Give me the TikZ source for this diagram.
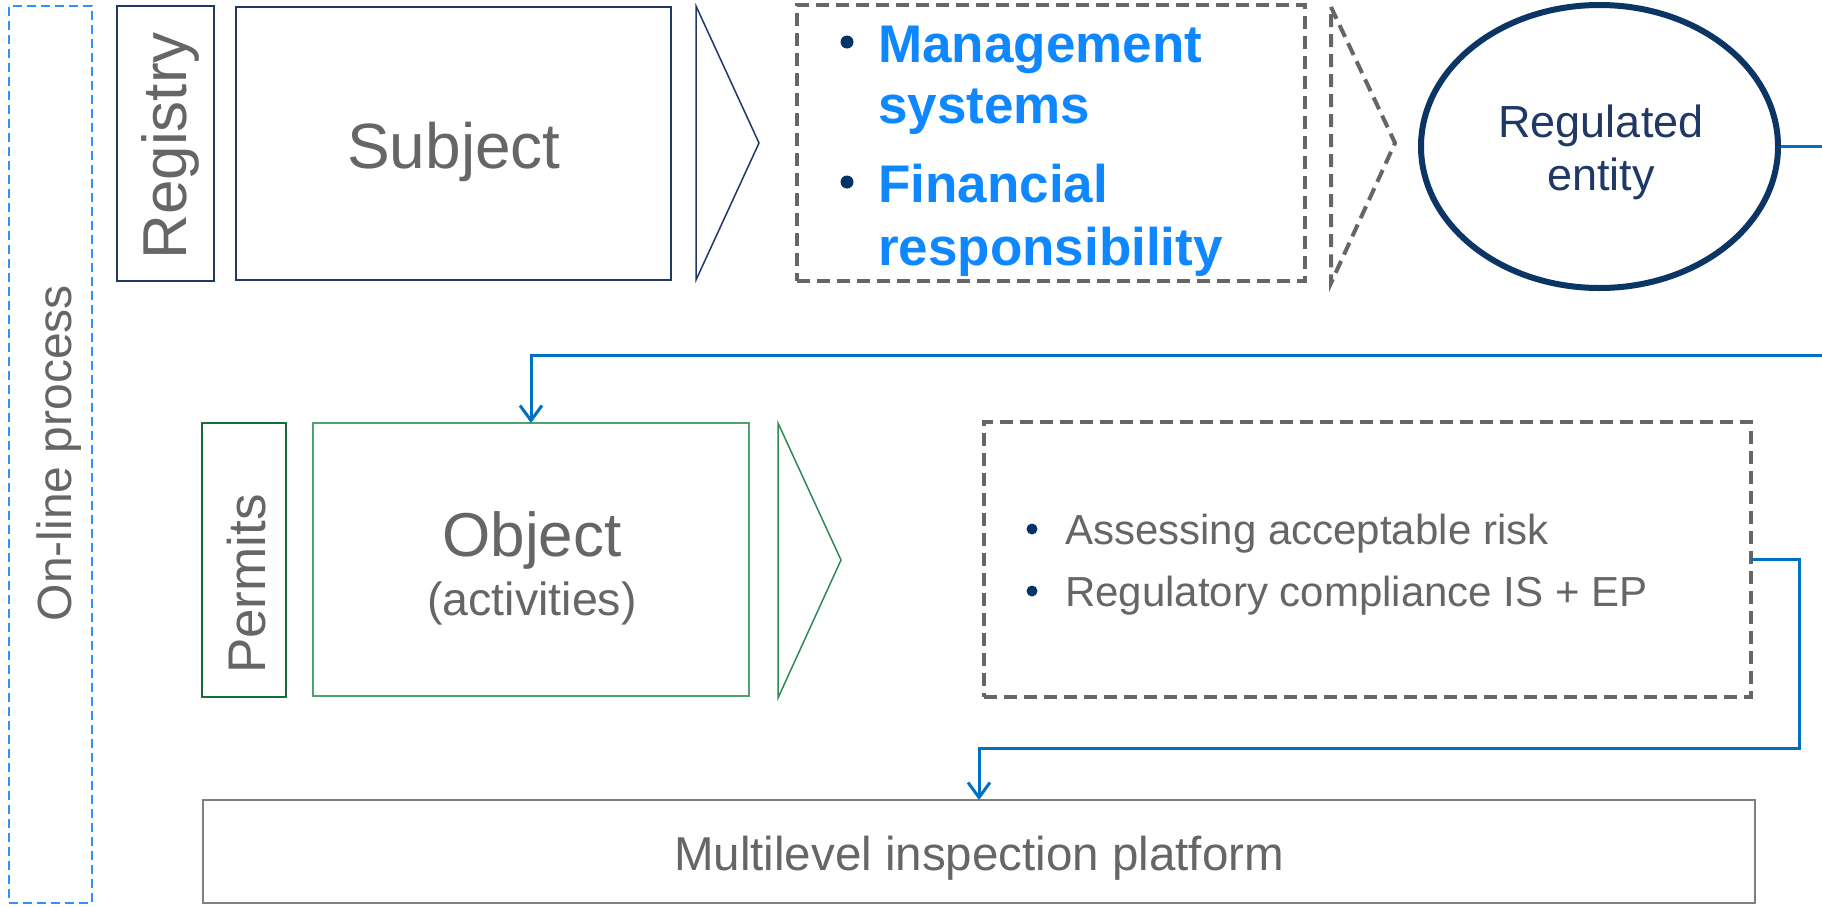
\documentclass[tikz,border=0pt]{standalone}
\usepackage{fontspec}
\setmainfont{Liberation Sans}
\usetikzlibrary{arrows.meta,shapes.geometric}
\definecolor{txtgray}{HTML}{666666}
\definecolor{brightblue}{HTML}{0F87FF}
\definecolor{navy}{HTML}{1F3864}
\definecolor{navydeep}{HTML}{0B3565}
\definecolor{bulletnavy}{HTML}{003366}
\definecolor{conblue}{HTML}{0070C0}
\definecolor{onlineblue}{HTML}{2F90FF}
\definecolor{dashgray}{HTML}{666666}
\definecolor{greendark}{HTML}{1A6B3A}
\definecolor{greenlight}{HTML}{4CA36B}
\definecolor{greenmid}{HTML}{2E8B57}
\definecolor{platgray}{HTML}{808080}
\newcommand\myfs[1]{\fontsize{#1}{#1}\selectfont}
\begin{document}
\begin{tikzpicture}[x=1pt,y=-1pt,
  boxshape/.style={rectangle,inner sep=0pt,outer sep=0pt},
  graydash/.style={draw=dashgray,line width=4pt,dash pattern=on 13pt off 7pt},
  conn/.style={draw=conblue,line width=3pt},
  arrowconn/.style={conn,-{Straight Barb[length=15pt,width=22pt]}},
  dotbullet/.style={circle,fill=bulletnavy,inner sep=0pt},
  graytxt/.style={text=txtgray,inner sep=0pt},
  bluetxt/.style={text=brightblue,inner sep=0pt,anchor=base west,font=\myfs{53}\bfseries},
]
\useasboundingbox (0,0) rectangle (1822,906);
\fill[white] (0,0) rectangle (1822,906);

% On-line process
\node[boxshape,draw=onlineblue,line width=2pt,dash pattern=on 9pt off 5pt,
      minimum width=83pt,minimum height=897pt] (online) at (50.5,454.5) {};
\node[graytxt,rotate=90,anchor=base,font=\myfs{48}] (onlinetxt) at (71,453) {On-line process};

% Registry
\node[boxshape,draw=navy,line width=2pt,minimum width=97pt,minimum height=275pt] (registry) at (165.5,143.5) {};
\node[graytxt,rotate=90,anchor=base,font=\myfs{62}] (registrytxt) at (186,146) {Registry};

% Subject
\node[boxshape,draw=navy,line width=1.5pt,minimum width=435pt,minimum height=273pt] (subject) at (453.5,143.5) {};
\node[graytxt,anchor=base,font=\myfs{64}] (subjecttxt) at (454,168) {Subject};

% chevron 1
\draw[draw=navy,line width=1.5pt,line join=miter] (696,6) -- (759,143) -- (696,280) -- cycle;

% dashed box 1
\node[boxshape,graydash,minimum width=508pt,minimum height=276pt] (mgmt) at (1051,143) {};
\node[dotbullet,minimum size=13pt] (b1) at (847,42) {};
\node[bluetxt] (t1a) at (878,62) {Management};
\node[bluetxt] (t1b) at (878,123) {systems};
\node[dotbullet,minimum size=13pt] (b2) at (847,182) {};
\node[bluetxt] (t2a) at (878,202) {Financial};
\node[bluetxt] (t2b) at (878,265) {responsibility};

% dashed chevron 2
\draw[graydash,line join=miter] (1331,7) -- (1395,143) -- (1331,283) -- cycle;

% Regulated entity
\node[ellipse,draw=navydeep,line width=6pt,minimum width=357pt,minimum height=283pt,inner sep=0pt] (reg) at (1599.5,146.5) {};
\node[text=navy,inner sep=0pt,anchor=base,font=\myfs{45}] (regtxt1) at (1601,137) {Regulated};
\node[text=navy,inner sep=0pt,anchor=base,font=\myfs{45}] (regtxt2) at (1601,190) {entity};

% Permits
\node[boxshape,draw=greendark,line width=2pt,minimum width=84pt,minimum height=274pt] (permits) at (244,560) {};
\node[graytxt,rotate=90,anchor=base,font=\myfs{53}] (permitstxt) at (265,584) {Permits};

% Object
\node[boxshape,draw=greenlight,line width=1.5pt,minimum width=436pt,minimum height=273pt] (object) at (531,559.5) {};
\node[graytxt,anchor=base,font=\myfs{62}] (objecttxt) at (532,556) {Object};
\node[graytxt,anchor=base,font=\myfs{46.5}] (acttxt) at (532,615) {(activities)};

% chevron 3
\draw[draw=greenmid,line width=1.5pt,line join=miter] (778,423) -- (841,560) -- (778,698) -- cycle;

% dashed box 2
\node[boxshape,graydash,minimum width=767pt,minimum height=275pt] (risk) at (1367.5,559.5) {};
\node[dotbullet,minimum size=11pt] (b3) at (1032,529) {};
\node[graytxt,anchor=base west,font=\myfs{42}] (t3) at (1065,544) {Assessing acceptable risk};
\node[dotbullet,minimum size=11pt] (b4) at (1032,591) {};
\node[graytxt,anchor=base west,font=\myfs{42}] (t4) at (1065,606) {Regulatory compliance IS + EP};

% Multilevel inspection platform
\node[boxshape,draw=platgray,line width=2.5pt,minimum width=1552pt,minimum height=103pt] (multi) at (979,851.5) {};
\node[graytxt,anchor=base,font=\myfs{47.5}] (multitxt) at (979,870) {Multilevel inspection platform};

% connectors
\coordinate (c1a) at (1825,146.5);
\coordinate (c1b) at (1825,355);
\draw[arrowconn] (reg.east) -- (c1a) -- (c1b) -| (object.north);

\coordinate (c2b) at (1799,748);
\draw[arrowconn] (risk.east) -| (c2b) -| (multi.north);
\end{tikzpicture}
\end{document}
